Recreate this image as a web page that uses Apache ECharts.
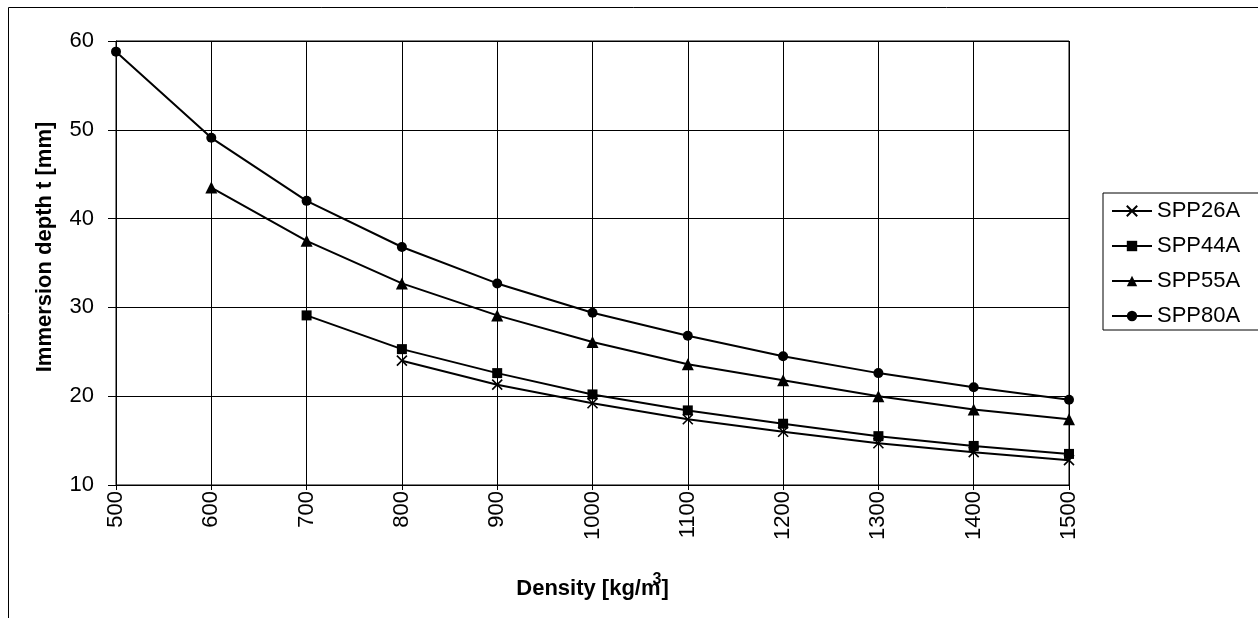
<!DOCTYPE html>
<html>
<head>
<meta charset="utf-8">
<script src="https://cdn.jsdelivr.net/npm/echarts@6/dist/echarts.min.js"></script>
<style>
html,body{margin:0;padding:0;background:#fff;}
#c{width:1258px;height:618px;}
</style>
</head>
<body>
<div id="c"></div>
<script>
const density = [500, 600, 700, 800, 900, 1000, 1100, 1200, 1300, 1400, 1500];
const spp26a = [null, null, null, 24.0, 21.3, 19.2, 17.4, 16.0, 14.7, 13.7, 12.8];
const spp44a = [null, null, 29.1, 25.3, 22.6, 20.2, 18.4, 16.9, 15.5, 14.4, 13.5];
const spp55a = [null, 43.5, 37.5, 32.7, 29.1, 26.1, 23.6, 21.8, 20.0, 18.5, 17.4];
const spp80a = [58.8, 49.1, 42.0, 36.8, 32.7, 29.4, 26.8, 24.5, 22.6, 21.0, 19.6];
const seriesNames = ['SPP26A', 'SPP44A', 'SPP55A', 'SPP80A'];

function pairs(arr) {
  const out = [];
  arr.forEach((v, i) => { if (v !== null) out.push([density[i], v]); });
  return out;
}

const FONT = 'Liberation Sans, Arial, sans-serif';
const chart = echarts.init(document.getElementById('c'), null, {renderer: 'canvas'});

const symbols = [
  {symbol: 'path://M0,0L10,10M10,0L0,10', size: 10},
  {symbol: 'rect', size: 10},
  {symbol: 'triangle', size: 12},
  {symbol: 'circle', size: 10}
];
const dataSets = [spp26a, spp44a, spp55a, spp80a];

const series = dataSets.map((d, k) => ({
  name: seriesNames[k],
  type: 'line',
  data: pairs(d),
  symbol: symbols[k].symbol,
  symbolSize: symbols[k].size,
  showSymbol: true,
  lineStyle: {color: '#000', width: 2},
  itemStyle: {color: '#000', borderColor: '#000', borderWidth: k === 0 ? 1.6 : 0},
  emphasis: {disabled: true},
  animation: false,
  z: 3 + k
}));

chart.setOption({
  animation: false,
  backgroundColor: '#fff',
  textStyle: {fontFamily: FONT, color: '#000'},
  graphic: [{
    type: 'rect',
    shape: {x: 8.5, y: 7.5, width: 1300, height: 700},
    style: {fill: 'none', stroke: '#000', lineWidth: 1},
    silent: true,
    z: -10
  }],
  grid: {
    left: 116, right: 189, top: 41, bottom: 133,
    outerBoundsMode: 'none',
    containLabel: false,
    show: true, borderColor: '#000', borderWidth: 1, backgroundColor: 'transparent'
  },
  legend: {
    orient: 'vertical',
    left: 1103, top: 193,
    padding: [7, 30, 3, 8],
    itemWidth: 40, itemHeight: 13, itemGap: 13,
    borderColor: '#000', borderWidth: 1,
    textStyle: {fontFamily: FONT, fontSize: 22, lineHeight: 22, color: '#000', padding: [0, 0, 0, 0]},
    data: seriesNames
  },
  xAxis: {
    type: 'value',
    min: 500, max: 1500, interval: 100,
    name: 'Density [kg/m{sup|3}]',
    nameLocation: 'middle',
    nameGap: 104,
    nameMoveOverlap: false,
    nameTextStyle: {
      fontFamily: FONT, fontSize: 22, fontWeight: 'bold', color: '#000', verticalAlign: 'middle',
      rich: {sup: {fontFamily: FONT, fontSize: 16, fontWeight: 'bold', color: '#000', padding: [0, 0, 18, -8]}}
    },
    axisLine: {show: true, onZero: false, lineStyle: {color: '#000', width: 1}},
    axisTick: {show: true, inside: false, length: 5, lineStyle: {color: '#000'}},
    axisLabel: {rotate: 90, fontFamily: FONT, fontSize: 22, color: '#000', margin: 6, formatter: v => String(v)},
    splitLine: {show: true, lineStyle: {color: '#000', width: 1}}
  },
  yAxis: {
    type: 'value',
    min: 10, max: 60, interval: 10,
    name: 'Immersion depth t [mm]',
    nameLocation: 'middle',
    nameGap: 60,
    nameMoveOverlap: false,
    nameTextStyle: {fontFamily: FONT, fontSize: 22, fontWeight: 'bold', color: '#000', padding: [0, 0, 0, 32]},
    axisLine: {show: true, onZero: false, lineStyle: {color: '#000', width: 1}},
    axisTick: {show: true, inside: false, length: 8, lineStyle: {color: '#000'}},
    axisLabel: {fontFamily: FONT, fontSize: 22, color: '#000', margin: 22},
    splitLine: {show: true, lineStyle: {color: '#000', width: 1}}
  },
  series: series
});
</script>
</body>
</html>
